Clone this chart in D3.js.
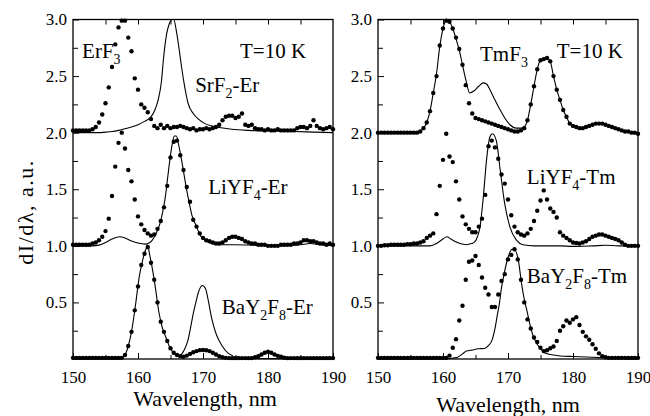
<!DOCTYPE html>
<html>
<head>
<meta charset="utf-8">
<script src="https://cdn.jsdelivr.net/npm/d3@7"></script>
<style>
body { margin: 0; background: #fff; }
svg { display: block; }
</style>
</head>
<body>
<div id="graph"></div>
<script>
// wavelength grid of the measured points (nm)
var wl = d3.range(150, 190.01, 0.5);
var xTicks = [150, 160, 170, 180, 190];
var yTicks = [0.5, 1.0, 1.5, 2.0, 2.5, 3.0];

// left panel (Er), dots, one per grid step
var erf3Dots = [2.02,2.02,2.02,2.02,2.02,2.02,2.03,2.05,2.09,2.16,
  2.26,2.40,2.58,2.78,2.93,2.99,2.99,2.84,2.72,2.48,
  2.38,2.25,2.22,2.18,2.12,2.06,2.04,2.07,2.04,2.06,
  2.04,2.05,2.05,2.06,2.05,2.04,2.03,2.04,2.02,2.03,
  2.03,2.04,2.03,2.04,2.05,2.07,2.11,2.14,2.15,2.15,
  2.13,2.14,2.17,2.07,2.06,2.07,2.04,2.03,2.03,2.02,
  2.03,2.02,2.02,2.03,2.02,2.02,2.02,2.02,2.02,2.04,
  2.05,2.05,2.04,2.06,2.11,2.06,2.04,2.03,2.04,2.05,
  2.03];
var liyf4ErDots = [1.01,1.01,1.01,1.01,1.01,1.01,1.02,1.03,1.05,1.08,
  1.13,1.24,1.44,1.70,1.91,2.00,1.86,1.67,1.57,1.41,
  1.26,1.19,1.14,1.11,1.09,1.10,1.15,1.22,1.34,1.53,
  1.78,1.92,1.93,1.80,1.67,1.52,1.39,1.23,1.17,1.11,
  1.07,1.05,1.04,1.03,1.02,1.02,1.03,1.05,1.07,1.08,
  1.08,1.07,1.06,1.04,1.03,1.02,1.02,1.01,1.01,1.01,
  1.00,1.00,1.00,1.00,1.01,1.01,1.01,1.01,1.02,1.02,
  1.03,1.05,1.05,1.04,1.04,1.03,1.02,1.02,1.01,1.02,
  1.01];
var bay2f8ErDots = [0.01,0.01,0.01,0.01,0.01,0.01,0.01,0.01,0.01,0.01,
  0.01,0.01,0.01,0.01,0.01,0.01,0.035,0.115,0.24,0.43,
  0.64,0.83,0.93,0.99,0.85,0.70,0.50,0.33,0.24,0.16,
  0.095,0.055,0.035,0.025,0.02,0.03,0.045,0.06,0.07,0.078,
  0.08,0.077,0.07,0.055,0.04,0.025,0.015,0.01,0.008,0.008,
  0.008,0.008,0.008,0.008,0.008,0.008,0.015,0.025,0.04,0.055,
  0.064,0.055,0.04,0.028,0.02,0.012,0.008,0.008,0.008,0.008,
  0.008,0.008,0.008,0.008,0.008,0.008,0.008,0.008,0.008,0.008,
  0.008];

// left panel solid curves [nm, value]
var srf2ErLine = [[150,2.0],[152,2.0],[154,2.0],[155,2.005],[156,2.01],[157,2.02],[158,2.035],[159,2.05],
  [160,2.07],[161,2.10],[162,2.14],[162.6,2.2],[163.1,2.29],[163.6,2.45],[163.9,2.64],[164.4,2.87],
  [164.8,2.96],[165.2,3.0],[165.5,3.0],[165.9,2.90],[166.3,2.75],[166.7,2.58],[167.2,2.40],[167.7,2.26],
  [168.5,2.17],[169.3,2.12],[170.3,2.08],[171.3,2.06],[172.5,2.045],[174.4,2.03],[177,2.02],[180,2.015],
  [184,2.01],[187,2.005],[190,2.0]];
var liyf4ErLine = [[150,1.0],[153,1.0],[154,1.006],[155,1.03],[156,1.06],[157.2,1.08],[158,1.07],[158.9,1.045],
  [160,1.025],[161.1,1.015],[161.7,1.025],[162.2,1.05],[162.8,1.11],[163.4,1.20],[163.8,1.30],[164.2,1.43],
  [164.6,1.62],[164.9,1.76],[165.3,1.91],[165.6,1.97],[165.9,1.97],[166.3,1.88],[166.7,1.76],[167.2,1.59],
  [167.7,1.43],[168.3,1.27],[169,1.17],[169.6,1.09],[170.3,1.05],[171.3,1.02],[172.3,1.01],[175,1.01],
  [178,1.005],[182,1.0],[185,1.01],[186.5,1.02],[188,1.01],[190,1.0]];
var bay2f8ErLine = [[150,0],[157,0],[157.5,0.01],[158,0.035],[158.5,0.115],[159,0.24],[159.6,0.47],[160.2,0.73],
  [160.7,0.87],[161.2,0.97],[161.5,1.0],[161.8,0.92],[162.2,0.80],[162.7,0.62],[163.2,0.42],[163.7,0.285],
  [164.3,0.19],[164.8,0.115],[165.3,0.065],[165.8,0.035],[166.3,0.03],[166.8,0.05],[167.2,0.09],[167.7,0.17],
  [168.1,0.28],[168.5,0.40],[168.9,0.50],[169.3,0.59],[169.9,0.65],[170.4,0.62],[170.8,0.52],[171.3,0.37],
  [171.7,0.28],[172.1,0.21],[172.9,0.12],[173.9,0.05],[175.4,0.015],[178,0.005],[190,0]];

// right panel (Tm) dots
var tmf3Dots = [2.0,2.0,2.0,2.0,2.0,2.0,2.0,2.0,2.0,2.0,
  2.0,2.0,2.0,2.01,2.04,2.09,2.19,2.35,2.50,2.77,
  2.92,2.99,2.98,2.92,2.84,2.74,2.60,2.42,2.26,2.17,
  2.13,2.12,2.11,2.10,2.09,2.08,2.07,2.06,2.05,2.04,
  2.03,2.02,2.01,2.01,2.02,2.04,2.11,2.25,2.41,2.56,
  2.64,2.65,2.66,2.63,2.50,2.38,2.29,2.20,2.14,2.08,
  2.06,2.05,2.04,2.04,2.05,2.06,2.07,2.08,2.08,2.08,
  2.07,2.06,2.05,2.04,2.03,2.02,2.01,2.01,2.00,2.00,
  1.99];
var liyf4TmDots = [1.0,1.0,1.005,1.005,1.01,1.01,1.01,1.01,1.01,1.015,
  1.015,1.02,1.02,1.03,1.04,1.07,1.09,1.11,1.28,1.53,
  1.76,1.99,1.79,1.74,1.57,1.41,1.26,1.19,1.15,1.12,
  1.12,1.17,1.24,1.45,1.88,1.93,1.87,1.77,1.63,1.55,
  1.41,1.27,1.17,1.12,1.10,1.09,1.11,1.15,1.22,1.31,
  1.40,1.49,1.41,1.33,1.30,1.25,1.12,1.09,1.07,1.05,
  1.03,1.025,1.02,1.03,1.04,1.06,1.08,1.09,1.10,1.10,
  1.09,1.08,1.07,1.06,1.05,1.03,1.01,1.00,1.00,1.00,
  1.0];
var bay2f8TmDots = [0.01,0.01,0.01,0.01,0.01,0.01,0.01,0.01,0.01,0.01,
  0.01,0.01,0.01,0.01,0.01,0.01,0.01,0.01,0.01,0.01,
  0.01,0.01,0.03,0.10,0.175,0.34,0.47,0.70,0.86,0.87,
  0.91,0.83,0.72,0.63,0.57,0.46,0.46,0.57,0.69,0.75,
  0.88,0.92,0.97,0.88,0.70,0.50,0.35,0.27,0.19,0.15,
  0.10,0.07,0.077,0.095,0.11,0.16,0.25,0.29,0.34,0.32,
  0.35,0.37,0.30,0.24,0.20,0.17,0.13,0.09,0.05,0.025,
  0.015,0.01,0.01,0.01,0.01,0.01,0.01,0.01,0.01,0.01,
  0.01];

// right panel solid curves
var tmf3Line = [[150,2.0],[156,2.0],[157,2.04],[157.5,2.09],[158,2.19],[158.5,2.35],[159,2.52],[159.5,2.76],
  [160,2.92],[160.6,3.0],[161,2.98],[161.5,2.92],[162,2.83],[162.5,2.73],[163,2.60],[163.5,2.47],
  [164.1,2.35],[164.8,2.37],[165.5,2.41],[166.2,2.44],[166.7,2.43],[167.3,2.37],[167.9,2.30],[168.8,2.20],
  [169.5,2.13],[170.3,2.07],[171.3,2.04],[172,2.04],[172.5,2.05],[173,2.11],[173.5,2.25],[174,2.41],
  [174.5,2.56],[175,2.64],[175.5,2.655],[176,2.66],[176.5,2.63],[177,2.50],[177.5,2.38],[178,2.29],
  [178.5,2.20],[179,2.14],[179.5,2.08],[180,2.06],[181,2.04],[182,2.05],[183,2.07],[184,2.08],
  [185,2.07],[186,2.05],[187,2.03],[188,2.01],[189,2.0],[190,1.99]];
var liyf4TmLine = [[150,1.0],[158,1.0],[159,1.02],[160,1.06],[160.6,1.08],[161.2,1.06],[161.8,1.04],[162.6,1.02],
  [163.6,1.01],[164.4,1.02],[164.8,1.03],[165.3,1.08],[165.7,1.17],[166.2,1.43],[166.7,1.76],[167.2,1.96],
  [167.6,1.99],[168.2,1.93],[168.8,1.67],[169.5,1.37],[170.3,1.165],[171.3,1.05],[172.3,1.01],[174,1.0],
  [178,1.0],[180,0.995],[183,1.0],[185,1.005],[187,1.0],[190,1.0]];
var bay2f8TmLine = [[150,0],[160,0],[161,0.005],[162.1,0.012],[163,0.045],[163.6,0.07],[164.5,0.08],[165.5,0.09],
  [166.5,0.095],[167,0.12],[167.5,0.16],[168,0.27],[168.3,0.37],[168.7,0.50],[169,0.63],[169.4,0.75],
  [169.8,0.855],[170.2,0.93],[170.6,0.97],[171.1,0.96],[171.6,0.87],[172.1,0.66],[172.5,0.53],[172.9,0.43],
  [173.4,0.30],[173.9,0.20],[174.4,0.14],[174.9,0.10],[175.5,0.06],[176,0.047],[177,0.035],[178,0.027],
  [180,0.022],[182.1,0.018],[185.2,0.01],[190,0]];

// sample names, [text, subscript?]
var leftNames = [[["ErF"],["3",1]], [["SrF"],["2",1],["-Er"]], [["LiYF"],["4",1],["-Er"]], [["BaY"],["2",1],["F"],["8",1],["-Er"]]];
var rightNames = [[["TmF"],["3",1]], [["LiYF"],["4",1],["-Tm"]], [["BaY"],["2",1],["F"],["8",1],["-Tm"]]];
var tempLabel = "T=10 K";

var w = 650, h = 416;
var FONT = "'Liberation Serif'";
var vis = d3.select("#graph").append("svg").attr("width", w).attr("height", h);
vis.append("rect").attr("width", w).attr("height", h).attr("fill", "#fff");

var y = d3.scaleLinear().domain([0, 3]).range([359, 19.5]);

function addLabel(g, parts, x, yy) {
	var t = g.append("text").attr("x", x).attr("y", yy).style("font-size", "21px");
	var down = false;
	parts.forEach(function(p) {
		var s = t.append("tspan").text(p[0]);
		if (p[1]) { s.style("font-size", "14px").attr("dy", 6); down = true; }
		else if (down) { s.attr("dy", -6); down = false; }
	});
}

function drawPanel(x0, x1, dotSets, lineSets, names, spots, tempAt) {
	var x = d3.scaleLinear().domain([150, 190]).range([x0, x1]);
	var g = vis.append("g");

	var line = d3.line().x(function(d) { return x(d[0]); }).y(function(d) { return y(d[1]); })
		.curve(d3.curveMonotoneX);
	g.selectAll("path.curve").data(lineSets).enter().append("path")
		.attr("class", "curve").attr("d", line)
		.attr("fill", "none").attr("stroke", "#000").attr("stroke-width", 1.1);

	dotSets.forEach(function(vals) {
		g.selectAll(null).data(vals).enter().append("circle")
			.attr("cx", function(d, i) { return x(wl[i]); })
			.attr("cy", function(d) { return y(d); })
			.attr("r", 2.2).attr("fill", "#000");
	});

	// ticks, all pointing inwards
	g.append("g").attr("transform", "translate(0," + y(0) + ")")
		.call(d3.axisBottom(x).tickValues(xTicks).tickSizeInner(-6).tickSizeOuter(0).tickPadding(12));
	g.append("g").attr("transform", "translate(0," + y(0) + ")")
		.call(d3.axisBottom(x).tickValues([155, 165, 175, 185]).tickSizeInner(-4).tickSizeOuter(0).tickFormat(""));
	g.append("g").attr("transform", "translate(0," + y(3) + ")")
		.call(d3.axisTop(x).tickValues(d3.range(155, 190, 5)).tickSizeInner(-5).tickSizeOuter(0).tickFormat(""));
	g.append("g").attr("transform", "translate(" + x0 + ",0)")
		.call(d3.axisLeft(y).tickValues(yTicks).tickFormat(d3.format(".1f")).tickSizeInner(-6).tickSizeOuter(0).tickPadding(6));
	g.append("g").attr("transform", "translate(" + x0 + ",0)")
		.call(d3.axisLeft(y).tickValues([0.25, 0.75, 1.25, 1.75, 2.25, 2.75]).tickSizeInner(-5).tickSizeOuter(0).tickFormat(""));
	g.selectAll(".domain").remove();
	g.selectAll(".tick line").attr("stroke", "#000").attr("stroke-width", 1);
	g.selectAll(".tick text").style("font-size", "17px").attr("fill", "#000");

	g.append("rect").attr("x", x0).attr("y", y(3)).attr("width", x1 - x0).attr("height", y(0) - y(3))
		.attr("fill", "none").attr("stroke", "#000").attr("stroke-width", 1.3);

	names.forEach(function(n, i) { addLabel(g, n, x(spots[i][0]), y(spots[i][1])); });
	g.append("text").attr("x", x(tempAt[0])).attr("y", y(tempAt[1])).style("font-size", "21px").text(tempLabel);
	return x;
}

drawPanel(73, 333, [erf3Dots, liyf4ErDots, bay2f8ErDots], [srf2ErLine, liyf4ErLine, bay2f8ErLine],
	leftNames, [[151.4, 2.66], [168.8, 2.36], [170.8, 1.46], [172.9, 0.40]], [175.7, 2.66]);
drawPanel(378, 638, [tmf3Dots, liyf4TmDots, bay2f8TmDots], [tmf3Line, liyf4TmLine, bay2f8TmLine],
	rightNames, [[165.7, 2.63], [172.9, 1.55], [172.9, 0.67]], [177.5, 2.66]);

// axis titles
vis.append("text").attr("x", 205).attr("y", 406).attr("text-anchor", "middle").style("font-size", "22px").text("Wavelength, nm");
vis.append("text").attr("x", 508).attr("y", 412).attr("text-anchor", "middle").style("font-size", "22px").text("Wavelength, nm");
vis.append("text").attr("transform", "translate(33,212) rotate(-90)").attr("text-anchor", "middle")
	.style("font-size", "22px").style("letter-spacing", "1.5px").text("dI/d\u03bb, a.u.");

vis.selectAll("text").style("font-family", FONT).attr("fill", "#000");
</script>
</body>
</html>
